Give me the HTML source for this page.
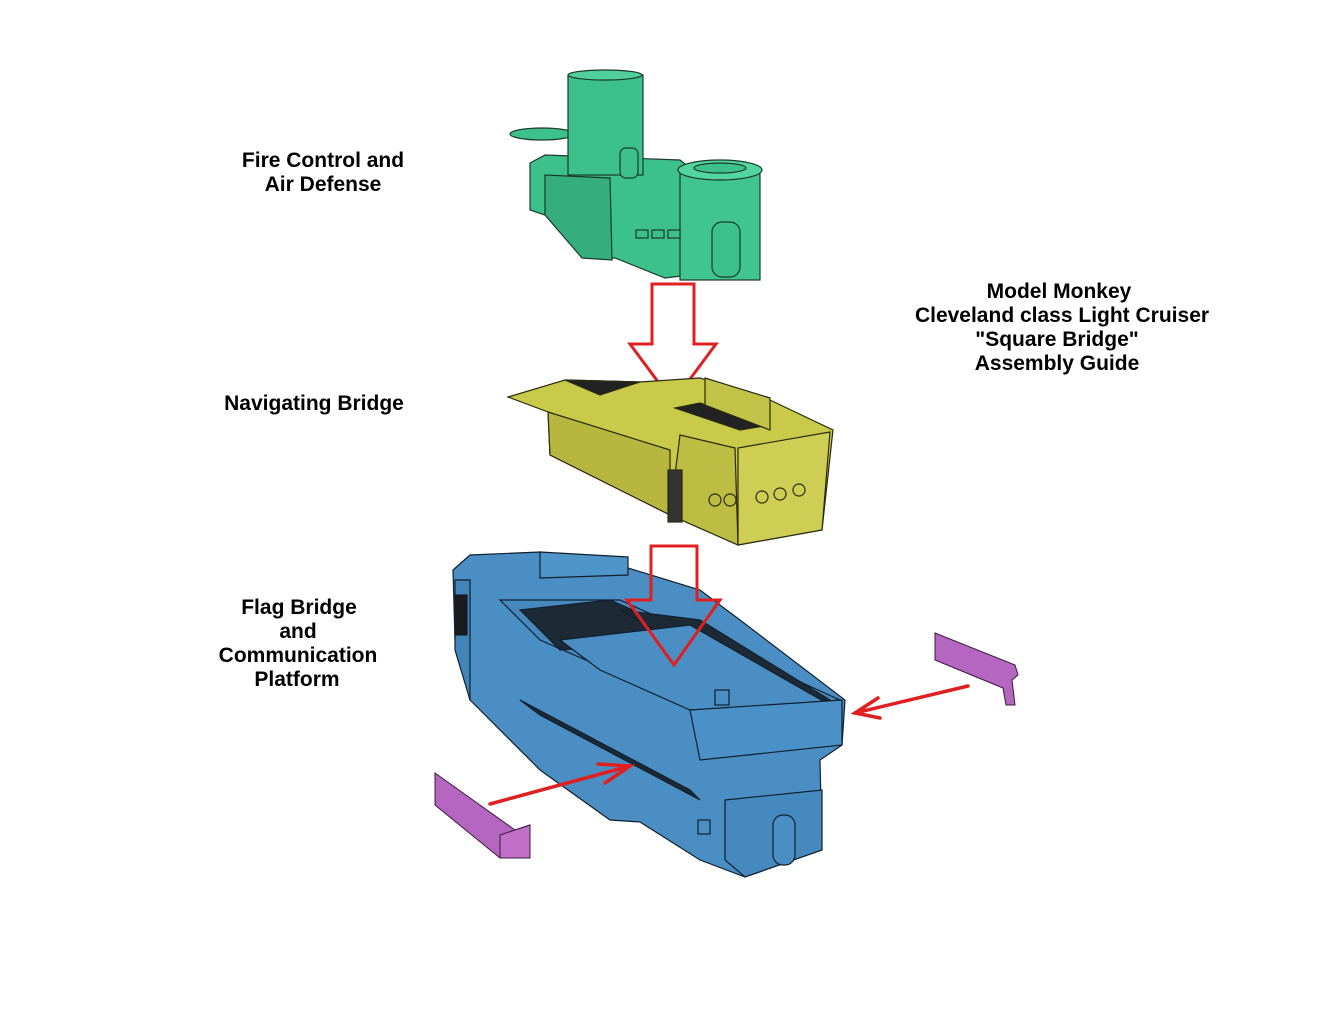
<!DOCTYPE html>
<html><head><meta charset="utf-8"><style>
html,body{margin:0;padding:0;background:#fff}
svg{display:block}
text{font-family:"Liberation Sans",Arial,sans-serif;font-weight:bold;font-size:21px;fill:#000}
</style></head><body>
<svg width="1323" height="1009" viewBox="0 0 1323 1009" xmlns="http://www.w3.org/2000/svg">
<rect width="1323" height="1009" fill="#fff"/>
<text x="323" y="167" text-anchor="middle">Fire Control and</text>
<text x="323" y="191" text-anchor="middle">Air Defense</text>
<text x="314" y="410" text-anchor="middle">Navigating Bridge</text>
<text x="299" y="614" text-anchor="middle">Flag Bridge</text>
<text x="298" y="638" text-anchor="middle">and</text>
<text x="298" y="662" text-anchor="middle">Communication</text>
<text x="297" y="686" text-anchor="middle">Platform</text>
<text x="1059" y="298" text-anchor="middle">Model Monkey</text>
<text x="1062" y="322" text-anchor="middle">Cleveland class Light Cruiser</text>
<text x="1057" y="346" text-anchor="middle">"Square Bridge"</text>
<text x="1057" y="370" text-anchor="middle">Assembly Guide</text>

<g stroke="#1a3a2a" stroke-width="1.2" fill="#3cc08c">
<ellipse cx="542" cy="134" rx="32" ry="6" />
<polygon points="530,163 545,155 680,160 690,168 690,275 665,278 615,258 585,258 545,215 530,210"/>
<rect x="568" y="75" width="75" height="100"/>
<ellipse cx="605" cy="75" rx="37" ry="5" fill="#4fd09c"/>
<polygon points="545,175 610,178 612,260 582,258 545,215" fill="#36ad7e"/>
<rect x="680" y="170" width="80" height="110" fill="#40c490"/>
<ellipse cx="720" cy="170" rx="42" ry="10" fill="#52d6a0"/>
<ellipse cx="720" cy="168" rx="26" ry="5" fill="#3cc08c"/>
<rect x="712" y="222" width="28" height="55" rx="10" fill="#3cc08c"/>
<rect x="620" y="148" width="18" height="30" rx="6"/>
<rect x="636" y="230" width="12" height="8"/><rect x="652" y="230" width="12" height="8"/><rect x="668" y="230" width="12" height="8"/>
</g>

<polygon points="652,284 694,284 694,344 716,344 673,402 630,344 652,344" fill="#fff" stroke="#e02020" stroke-width="3"/>

<g stroke="#2a2a10" stroke-width="1.2">
<polygon points="508,397 565,380 640,382 700,378 770,400 833,430 822,530 738,545 670,515 550,455 548,412" fill="#c9c94a"/>
<polygon points="548,412 670,450 670,515 550,455" fill="#b7b740"/>
<polygon points="680,435 735,448 738,545 670,515" fill="#bdbd44"/>
<polygon points="738,448 830,432 822,530 738,545" fill="#cece55"/>
<polygon points="565,380 640,382 600,395" fill="#222"/>
<polygon points="675,408 700,403 770,425 740,430" fill="#222"/>
<polygon points="705,378 770,398 770,430 705,405" fill="#c2c248"/>
<rect x="668" y="470" width="14" height="52" fill="#333"/>
<circle cx="715" cy="500" r="6" fill="none"/><circle cx="730" cy="500" r="6" fill="none"/>
<circle cx="762" cy="497" r="6" fill="none"/><circle cx="780" cy="494" r="6" fill="none"/><circle cx="799" cy="490" r="6" fill="none"/>
</g>

<g stroke="#10202e" stroke-width="1.2">
<polygon points="453,570 470,555 540,552 628,568 700,590 740,620 845,700 842,745 820,760 822,850 745,877 700,860 640,822 610,820 540,770 470,700 455,640" fill="#4a8ec4"/>
<polygon points="540,552 628,557 628,575 540,578" fill="#4f95ca"/>
<polygon points="500,600 620,600 840,700 700,710 540,640" fill="#4789bf"/>
<polygon points="520,610 610,600 700,640 560,650" fill="#1d2a36"/>
<polygon points="620,610 700,620 830,700 800,705 690,650" fill="#1d2a36"/>
<polygon points="560,640 690,625 830,705 690,710 600,670" fill="#4a8ec4"/>
<polygon points="455,580 470,580 470,700 455,650" fill="#4185bb"/>
<rect x="455" y="595" width="12" height="40" fill="#1a1a1a"/>
<polygon points="520,700 690,790 700,800 540,715" fill="#1d2a36"/>
<polygon points="690,710 842,700 842,745 700,760" fill="#4b90c6"/>
<polygon points="725,800 822,790 822,850 745,877 725,860" fill="#4589bf"/>
<rect x="773" y="815" width="22" height="50" rx="10" fill="#4a8ec4"/>
<rect x="698" y="820" width="12" height="14" fill="#4a8ec4"/>
<rect x="715" y="690" width="14" height="15" fill="#4a8ec4"/>
</g>

<polygon points="651,546 697,546 697,600 720,600 674,665 627,600 651,600" fill="none" stroke="#e02020" stroke-width="3"/>

<g stroke="#3a1a3a" stroke-width="1">
<polygon points="935,633 1015,665 1018,675 1012,680 1015,705 1006,705 1003,688 935,660" fill="#b566c0"/>
<polygon points="435,773 515,830 530,825 530,858 500,858 435,805" fill="#b566c0"/>
<polygon points="500,835 530,825 530,858 500,858" fill="#c070c8"/>
</g>

<g stroke="#e02020" stroke-width="3.5" fill="none" stroke-linecap="round">
<line x1="968" y1="686" x2="855" y2="713"/>
<polyline points="878,698 855,713 880,718"/>
<line x1="490" y1="804" x2="630" y2="766"/>
<polyline points="598,764 630,766 605,783"/>
</g>
</svg>
</body></html>
